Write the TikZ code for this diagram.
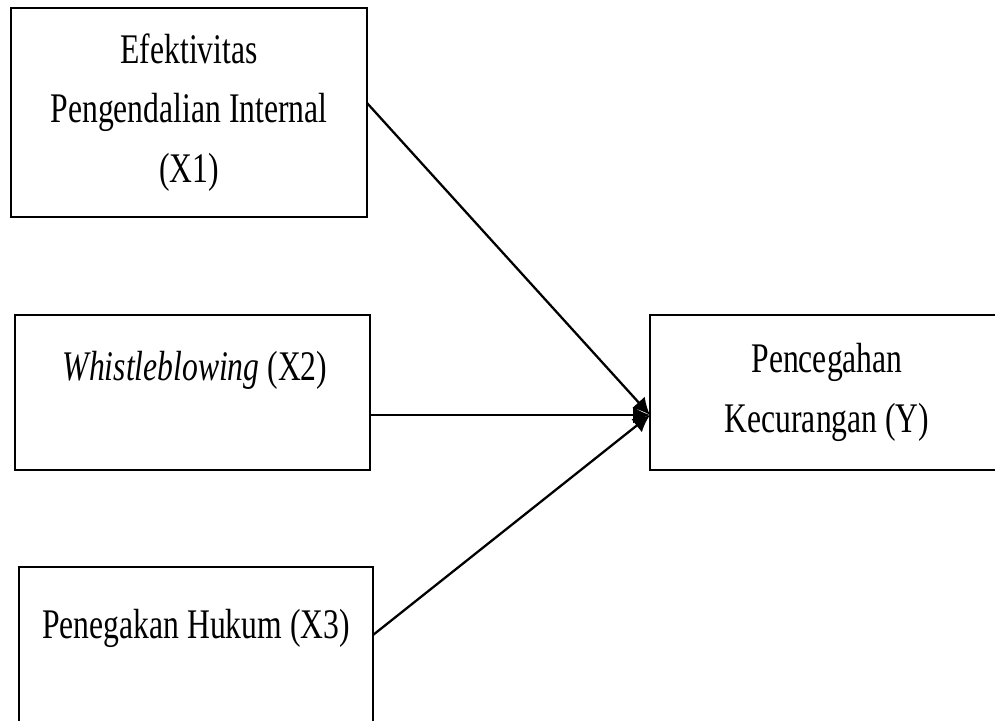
\documentclass[tikz,border=0pt]{standalone}
\usepackage{fontspec}
\setmainfont{Liberation Serif}[FakeStretch=0.75]
\usetikzlibrary{arrows.meta, positioning}

\begin{document}
\begin{tikzpicture}[x=1cm, y=1cm, font=\fontsize{24}{34}\selectfont,
    box/.style={draw, line width=1.3pt, inner sep=0pt, outer sep=0pt, align=center},
    >={Latex[length=3.4mm, width=3.4mm]}]
    \clip (0, 0) rectangle (19.9, -14.4);
    \node[box, minimum width=7.12cm, minimum height=4.18cm] (x1) at (3.78, -2.25) {Efektivitas\\Pengendalian Internal\\(X1)};
    \node[box, minimum width=7.1cm, minimum height=3.1cm] (x2) at (3.85, -7.85) {};
    \node[anchor=base] (t2) at (3.9, -7.6) {\textit{Whistleblowing} (X2)};
    \node[box, minimum width=7.08cm, minimum height=3.3cm] (x3) at (3.92, -12.99) {};
    \node[anchor=base] (t3) at (3.92, -12.76) {Penegakan Hukum (X3)};
    \node[box, minimum width=7.08cm, minimum height=3.1cm] (y) at (16.54, -7.85) {Pencegahan\\Kecurangan (Y)};
    \coordinate (tip) at ([yshift=-0.45cm]y.west);
    \draw[line width=1.3pt]
    ([yshift=0.19cm]x1.east) edge[->] (tip)
    ([yshift=-0.45cm]x2.east) edge[->] (tip)
    ([yshift=-1.36cm]x3.north east) edge[->] (tip);
\end{tikzpicture}
\end{document}
